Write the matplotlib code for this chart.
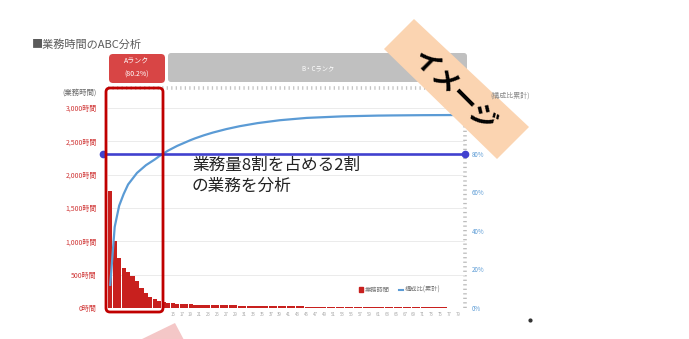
import numpy as np
import matplotlib
matplotlib.use("Agg")
import matplotlib.pyplot as plt
from matplotlib.patches import FancyBboxPatch, Polygon, Patch
from matplotlib.lines import Line2D
from matplotlib.transforms import IdentityTransform

plt.rcParams['font.family'] = ['Noto Sans CJK JP', 'DejaVu Sans']

W, H = 689, 339

# ---------- data ----------
hours = [1750, 1000, 750, 600, 540, 480, 400, 300, 230, 170, 140, 110, 90,
         75, 70, 65, 60, 58, 55, 52, 50,
         45, 44, 43, 42, 41, 40, 39, 38, 37, 36, 35, 34, 33, 32, 31, 30, 29, 28,
         27, 27, 26, 26, 25,
         15, 15, 14, 14, 14, 13, 13, 13, 12, 12, 12, 12, 11, 11, 11, 11,
         10, 10, 10, 10, 10, 9, 9, 9, 9, 9, 9, 8, 8, 8, 8, 8,
         3, 2, 2, 1]
cum_pct = [12, 42, 53, 59, 64, 67, 70, 72, 74, 75.5, 77, 78.7, 80.2,
           81.6, 82.8, 84, 85, 86, 87, 87.9, 88.7,
           89.5, 90.2, 90.9, 91.5, 92.1, 92.7, 93.2, 93.7, 94.2, 94.6, 95.0,
           95.4, 95.8, 96.1, 96.4, 96.7, 97.0, 97.3, 97.5, 97.7, 97.9, 98.1, 98.3,
           98.5, 98.6, 98.7, 98.8, 98.9, 99.0, 99.1, 99.2, 99.3, 99.35, 99.4,
           99.45, 99.5, 99.55, 99.6, 99.65, 99.7, 99.72, 99.75, 99.78, 99.8,
           99.82, 99.84, 99.86, 99.88, 99.9, 99.92, 99.93, 99.94, 99.95, 99.96,
           99.97, 99.98, 99.99, 99.99, 100]
categories = [f"{i + 1:02d}" for i in range(len(hours))]
hour_ticks = [0, 500, 1000, 1500, 2000, 2500, 3000]
hour_labels = ["0時間", "500時間", "1,000時間", "1,500時間", "2,000時間", "2,500時間", "3,000時間"]
pct_ticks = [0, 20, 40, 60, 80]
pct_labels = ["0%", "20%", "40%", "60%", "80%"]
target_pct = 80
n_a_rank = 13  # bars inside the A-rank frame

RED = "#c8201e"
BLUE = "#5b9bd5"
LINE80 = "#4141cf"


def fx(x):
    return x / W


def fy(y):
    return 1 - y / H


fig = plt.figure(figsize=(W / 100, H / 100), dpi=100)
ax = fig.add_axes([fx(108), fy(308), fx(465) - fx(108), fy(88) - fy(308)])

x = np.arange(len(hours))
ax.bar(x, hours, width=0.92, color=RED, zorder=2)
ax.set_xlim(-0.5, len(hours) - 0.5)
ax.set_ylim(0, 3300)
ax.set_yticks(hour_ticks)
ax.set_yticklabels(hour_labels, fontsize=5, color="#d03535")
ax.tick_params(axis="y", length=0, pad=8)
# category labels only visible outside the A-rank frame
tick_idx = x[n_a_rank + 1::2]
ax.set_xticks(tick_idx)
ax.set_xticklabels([categories[i] for i in tick_idx], fontsize=3.2, color="#a8a8a8")
ax.tick_params(axis="x", length=0, pad=3)
ax.grid(True, axis="y", color="#e8e8e8", lw=0.6, zorder=0)
for s in ax.spines.values():
    s.set_visible(False)

# tick-mark like dotted borders on top and right
ax.plot([0, 1], [1, 1], transform=ax.transAxes, color="#c4c4c4", lw=2.6,
        dashes=(0.35, 0.9), clip_on=False, zorder=1)
ax.plot([1, 1], [0, 1], transform=ax.transAxes, color="#bcbcbc", lw=2.6,
        dashes=(0.35, 0.9), clip_on=False, zorder=1)

ax2 = ax.twinx()
ax2.set_ylim(0, 114)
ax2.plot(x, cum_pct, color=BLUE, lw=1.6, zorder=3)
ax2.plot([-1.6, len(hours) - 0.5], [target_pct, target_pct], color=LINE80, lw=1.9,
         marker="o", ms=4.5, clip_on=False, zorder=4)
ax2.set_yticks(pct_ticks)
ax2.set_yticklabels(pct_labels, fontsize=4.5, color=BLUE)
ax2.tick_params(axis="y", length=0, pad=5)
for s in ax2.spines.values():
    s.set_visible(False)

ax.legend(handles=[Patch(color=RED), Line2D([], [], color=BLUE, lw=1.5)],
          labels=["業務時間", "構成比(累計)"], ncol=2, fontsize=4.5, frameon=False,
          handlelength=0.6, handleheight=0.9, handletextpad=0.3, columnspacing=1.5,
          labelcolor="#777777", loc="center",
          bbox_to_anchor=(fx(400), fy(290)), bbox_transform=fig.transFigure)

# ---------- texts and boxes ----------
fig.text(fx(32), fy(45), "■業務時間のABC分析", fontsize=8, color="#5a5a5a", va="center")
fig.text(fx(97), fy(93), "(業務時間)", fontsize=5.3, color="#666666", ha="right", va="center")
fig.text(fx(530), fy(96), "(構成比累計)", fontsize=5, color="#888888", ha="right", va="center")

T = IdentityTransform()
fig.add_artist(FancyBboxPatch((109, H - 83), 56, 29, boxstyle="round,pad=0,rounding_size=4",
                              fc="#d84545", ec="none", transform=T))
fig.text(fx(137), fy(62), "Aランク", fontsize=5, color="white", ha="center", va="center")
fig.text(fx(137), fy(75), "(80.2%)", fontsize=5, color="white", ha="center", va="center")
fig.add_artist(FancyBboxPatch((168, H - 82), 299, 29, boxstyle="round,pad=0,rounding_size=3",
                              fc="#c0c0c0", ec="none", transform=T))
fig.text(fx(318), fy(68), "B・Cランク", fontsize=4.5, color="white", ha="center", va="center")
fig.add_artist(FancyBboxPatch((106, H - 312), 57, 224, boxstyle="round,pad=0,rounding_size=4",
                              fc="none", ec="#c00000", lw=2.0, transform=T))

fig.text(fx(192), fy(176), "業務量8割を占める2割\nの業務を分析", fontsize=12, color="#222222",
         va="center", linespacing=1.25)

# banner
band = [(384, 49), (414, 19), (529, 127), (497, 159)]
fig.add_artist(Polygon([(fx(a), fy(b)) for a, b in band], closed=True, fc="#fbd4b1",
                       ec="none", transform=fig.transFigure))
fig.text(fx(454), fy(91), "イメージ", fontsize=19, fontweight="bold", color="black",
         rotation=-45, ha="center", va="center", rotation_mode="anchor")

# partial shape at bottom
tri = [(140, 340), (175, 323), (184, 340)]
fig.add_artist(Polygon([(fx(a), fy(b)) for a, b in tri], closed=True, fc="#f4c7c7",
                       ec="none", transform=fig.transFigure))
fig.add_artist(Line2D([fx(530)], [fy(320)], marker="o", ms=2, color="#333333",
                      transform=fig.transFigure))

fig.savefig("out.png", dpi=100)
